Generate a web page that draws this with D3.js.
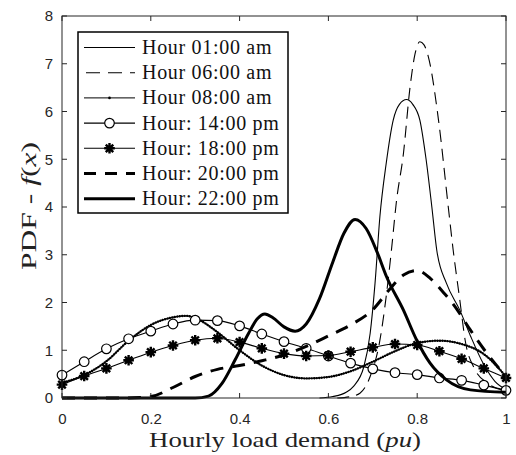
<!DOCTYPE html>
<html><head><meta charset="utf-8">
<script src="https://cdn.jsdelivr.net/npm/d3@7"></script>
<style>body{margin:0;background:#fff}svg{display:block}</style>
</head><body>
<svg id="c" width="516" height="455"></svg>
<script>
// ---- data ----
const xTicks = [0, 0.2, 0.4, 0.6, 0.8, 1];
const xTickLabels = ["0", "0.2", "0.4", "0.6", "0.8", "1"];
const yTicks = [0, 1, 2, 3, 4, 5, 6, 7, 8];
const legendLabels = ["Hour 01:00 am", "Hour 06:00 am", "Hour 08:00 am",
  "Hour: 14:00 pm", "Hour: 18:00 pm", "Hour: 20:00 pm", "Hour: 22:00 pm"];

const x01 = [0.58,0.61,0.64,0.656,0.68,0.694,0.705,0.716,0.73,0.746,0.76,0.776,0.79,0.806,0.82,0.833,0.844,0.866,0.896,0.92,0.95,0.975,1.0];
const y01 = [0,0.03,0.12,0.24,0.66,1.35,2.4,3.8,4.9,5.82,6.15,6.25,6.15,5.82,5.0,4.0,3.1,2.4,1.84,1.3,0.7,0.35,0.18];

const x06 = [0.62,0.65,0.671,0.694,0.716,0.731,0.742,0.753,0.769,0.784,0.795,0.806,0.815,0.825,0.848,0.87,0.881,0.896,0.908,0.93,0.96,1.0];
const y06 = [0,0.03,0.1,0.45,1.21,2.19,3.1,4.1,5.12,6.52,7.2,7.46,7.4,7.15,5.82,4.0,3.1,2.05,1.21,0.6,0.3,0.15];

const x08 = [0,0.05,0.1,0.15,0.2,0.25,0.28,0.31,0.35,0.4,0.45,0.5,0.55,0.6,0.65,0.7,0.75,0.8,0.85,0.9,0.95,1.0];
const y08 = [0.32,0.48,0.77,1.2,1.53,1.69,1.72,1.63,1.38,1.0,0.68,0.48,0.41,0.44,0.56,0.76,0.98,1.15,1.2,1.13,0.92,0.45];

const xMk = [0,0.05,0.1,0.15,0.2,0.25,0.3,0.35,0.4,0.45,0.5,0.55,0.6,0.65,0.7,0.75,0.8,0.85,0.9,0.95,1.0];
const y14 = [0.48,0.76,1.03,1.24,1.4,1.55,1.63,1.62,1.51,1.34,1.18,1.04,0.88,0.73,0.61,0.53,0.49,0.42,0.37,0.27,0.16];
const y18 = [0.28,0.46,0.62,0.79,0.96,1.1,1.21,1.25,1.17,1.04,0.93,0.88,0.89,0.97,1.06,1.13,1.11,0.98,0.82,0.62,0.42];

const x20 = [0,0.15,0.2,0.25,0.3,0.35,0.4,0.45,0.5,0.55,0.6,0.65,0.7,0.74,0.77,0.8,0.83,0.86,0.88,0.92,0.96,1.0];
const y20 = [0,0,0.03,0.22,0.45,0.6,0.68,0.78,0.9,1.08,1.3,1.53,1.85,2.3,2.58,2.67,2.5,2.2,1.98,1.42,0.9,0.45];

const x22 = [0,0.3,0.33,0.36,0.39,0.42,0.44,0.457,0.475,0.5,0.525,0.55,0.58,0.61,0.635,0.66,0.685,0.71,0.731,0.769,0.799,0.829,0.866,0.92,1.0];
const y22 = [0,0,0.04,0.3,0.8,1.35,1.66,1.76,1.68,1.49,1.4,1.55,2.08,2.85,3.45,3.74,3.55,3.05,2.54,1.84,1.21,0.73,0.38,0.17,0.12];

// ---- drawing ----
const svg = d3.select("#c");
const x = d3.scaleLinear().domain([0, 1]).range([62, 506]);
const y = d3.scaleLinear().domain([0, 8]).range([398, 16]);
const ink = "#000";
const zip = (xs, ys) => xs.map((v, i) => [v, ys[i]]);
const line = d3.line().x(d => x(d[0])).y(d => y(d[1])).curve(d3.curveMonotoneX);

const plot = svg.append("g");
plot.append("rect").attr("x", 62).attr("y", 16).attr("width", 444).attr("height", 382).attr("fill", "#fff");

const series = [
  {k:"01", data: zip(x01, y01), w: 1.1, dash: null},
  {k:"06", data: zip(x06, y06), w: 1.1, dash: "12,7"},
  {k:"08", data: zip(x08, y08), w: 1.0, dash: null, dotted: true},
  {k:"14", data: zip(xMk, y14), w: 1.1, dash: null, marker: "o"},
  {k:"18", data: zip(xMk, y18), w: 1.1, dash: null, marker: "*"},
  {k:"20", data: zip(x20, y20), w: 3.0, dash: "13,9"},
  {k:"22", data: zip(x22, y22), w: 3.0, dash: null}
];

const starPath = (r) => {
  const d = r * 0.7071;
  return `M${-r},0L${r},0M0,${-r}L0,${r}M${-d},${-d}L${d},${d}M${-d},${d}L${d},${-d}`;
};

function drawMarker(g, type, cx, cy) {
  if (type === "o") {
    g.append("circle").attr("cx", cx).attr("cy", cy).attr("r", 4.8)
      .attr("fill", "#fff").attr("stroke", ink).attr("stroke-width", 1.2);
  } else if (type === "*") {
    g.append("path").attr("d", starPath(5.3)).attr("transform", `translate(${cx},${cy})`)
      .attr("fill", "none").attr("stroke", ink).attr("stroke-width", 2.4);
  }
}

series.forEach(s => {
  plot.append("path").datum(s.data).attr("d", line)
    .attr("fill", "none").attr("stroke", ink).attr("stroke-width", s.w)
    .attr("stroke-dasharray", s.dash);
  if (s.dotted) {
    plot.append("path").datum(s.data).attr("d", line)
      .attr("fill", "none").attr("stroke", ink).attr("stroke-width", 2.4)
      .attr("stroke-linecap", "round").attr("stroke-dasharray", "0.1,2.4");
  }
  if (s.marker) {
    const g = plot.append("g");
    s.data.forEach(d => drawMarker(g, s.marker, x(d[0]), y(d[1])));
  }
});

// ---- axes (MATLAB-like box with inward ticks) ----
const axCol = "#262626";
const tickLen = 5;
const ax = svg.append("g");
ax.append("rect").attr("x", 62).attr("y", 16).attr("width", 444).attr("height", 382)
  .attr("fill", "none").attr("stroke", axCol).attr("stroke-width", 1);

const xb = d3.axisBottom(x).tickValues(xTicks).tickSize(0).tickFormat((d, i) => xTickLabels[i]);
const xg = ax.append("g").attr("transform", "translate(0,398)").call(xb);
xg.select(".domain").remove();
xg.selectAll("text").attr("font-family", "Liberation Sans, Arial, sans-serif").attr("font-size", 15)
  .attr("fill", axCol).attr("dy", null).attr("y", 26);

const yl = d3.axisLeft(y).tickValues(yTicks).tickSize(0).tickFormat(d3.format("d"));
const yg = ax.append("g").attr("transform", "translate(62,0)").call(yl);
yg.select(".domain").remove();
yg.selectAll("text").attr("font-family", "Liberation Sans, Arial, sans-serif").attr("font-size", 15)
  .attr("fill", axCol).attr("x", -9);

// inward ticks on all four sides
xTicks.forEach(t => {
  ax.append("line").attr("x1", x(t)).attr("x2", x(t)).attr("y1", 398).attr("y2", 398 - tickLen).attr("stroke", axCol);
  ax.append("line").attr("x1", x(t)).attr("x2", x(t)).attr("y1", 16).attr("y2", 16 + tickLen).attr("stroke", axCol);
});
yTicks.forEach(t => {
  ax.append("line").attr("x1", 62).attr("x2", 62 + tickLen).attr("y1", y(t)).attr("y2", y(t)).attr("stroke", axCol);
  ax.append("line").attr("x1", 506).attr("x2", 506 - tickLen).attr("y1", y(t)).attr("y2", y(t)).attr("stroke", axCol);
});

// axis labels
const serif = "Liberation Serif, 'Times New Roman', serif";
const xlab = svg.append("text").attr("x", 285).attr("y", 447).attr("text-anchor", "middle")
  .attr("font-family", serif).attr("font-size", 21).attr("fill", "#222")
  .attr("textLength", 272).attr("lengthAdjust", "spacingAndGlyphs");
xlab.append("tspan").text("Hourly load demand (");
xlab.append("tspan").attr("font-style", "italic").text("pu");
xlab.append("tspan").text(")");

const ylab = svg.append("text").attr("transform", "translate(36,206) rotate(-90)").attr("text-anchor", "middle")
  .attr("font-family", serif).attr("font-size", 21).attr("fill", "#222")
  .attr("textLength", 128).attr("lengthAdjust", "spacingAndGlyphs");
ylab.append("tspan").text("PDF - ");
ylab.append("tspan").attr("font-style", "italic").text("f");
ylab.append("tspan").text("(");
ylab.append("tspan").attr("font-style", "italic").text("x");
ylab.append("tspan").text(")");

// ---- legend ----
const lg = svg.append("g");
lg.append("rect").attr("x", 78).attr("y", 32).attr("width", 210).attr("height", 181)
  .attr("fill", "#fff").attr("stroke", ink).attr("stroke-width", 1.5);
series.forEach((s, i) => {
  const ly = 47.5 + i * 25.2;
  lg.append("line").attr("x1", 84).attr("x2", 135).attr("y1", ly).attr("y2", ly)
    .attr("stroke", ink).attr("stroke-width", s.w)
    .attr("stroke-dasharray", s.dash ? (s.w > 2 ? "12,9" : "14,8") : null)
    .attr("stroke-dashoffset", s.dash ? (s.w > 2 ? 0 : -2) : null);
  if (s.dotted) {
    lg.append("circle").attr("cx", 109.5).attr("cy", ly).attr("r", 1.3).attr("fill", ink);
  }
  if (s.marker) drawMarker(lg, s.marker, 109.5, ly);
  lg.append("text").attr("x", 142).attr("y", ly + 6.5)
    .attr("font-family", serif).attr("font-size", 20).attr("letter-spacing", 0.7)
    .attr("fill", "#111").text(legendLabels[i]);
});
</script>
</body></html>
